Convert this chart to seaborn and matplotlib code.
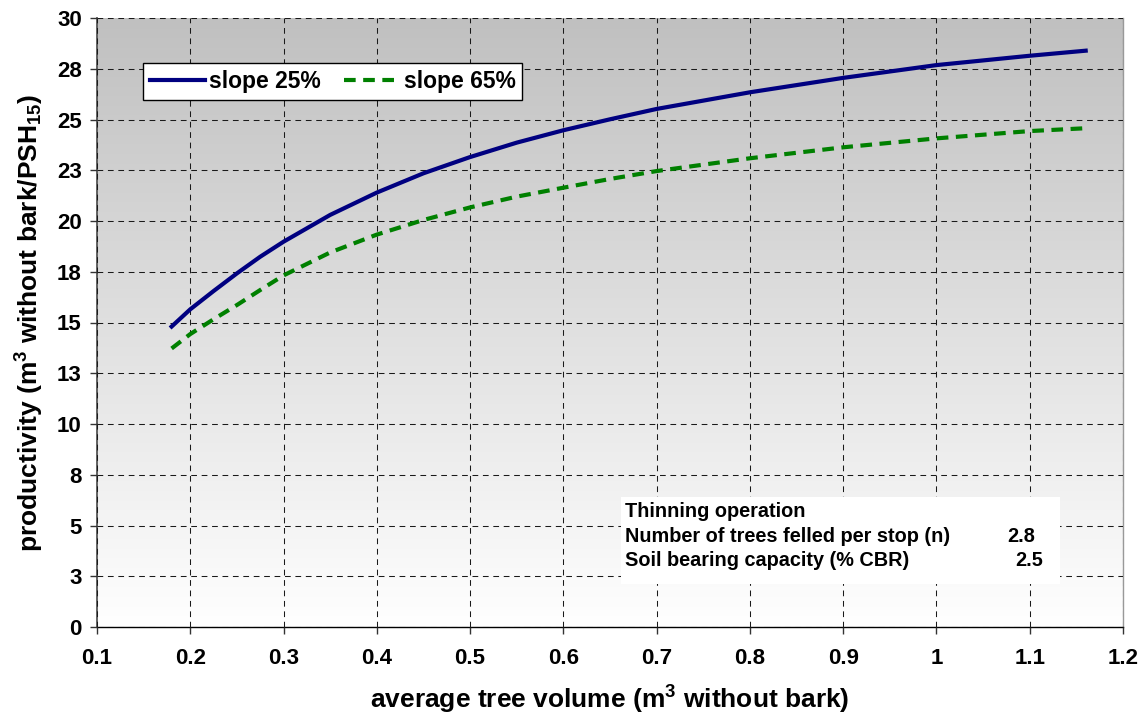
import numpy as np
import pandas as pd
import matplotlib
matplotlib.use("Agg")
import matplotlib.pyplot as plt
import seaborn as sns
from matplotlib.patches import Rectangle

# ---- data ----
volume = [0.18, 0.20, 0.225, 0.25, 0.275, 0.30, 0.35, 0.40, 0.45, 0.50, 0.55, 0.60,
          0.65, 0.70, 0.80, 0.90, 1.00, 1.10, 1.16]
slope25 = [14.80, 15.65, 16.55, 17.42, 18.24, 18.98, 20.30, 21.40, 22.35, 23.15, 23.86, 24.47,
           25.01, 25.52, 26.34, 27.05, 27.68, 28.14, 28.39]
slope65 = [13.72, 14.43, 15.16, 15.86, 16.60, 17.32, 18.45, 19.33, 20.05, 20.67, 21.20, 21.64,
           22.07, 22.46, 23.09, 23.63, 24.07, 24.43, 24.57]
series_names = ["slope 25%", "slope 65%"]

x_ticks = [0.1, 0.2, 0.3, 0.4, 0.5, 0.6, 0.7, 0.8, 0.9, 1.0, 1.1, 1.2]
x_tick_labels = ["0.1", "0.2", "0.3", "0.4", "0.5", "0.6", "0.7", "0.8", "0.9", "1", "1.1", "1.2"]
y_ticks = [0, 2.5, 5, 7.5, 10, 12.5, 15, 17.5, 20, 22.5, 25, 27.5, 30]
y_tick_labels = ["0", "3", "5", "8", "10", "13", "15", "18", "20", "23", "25", "28", "30"]

info_lines = ["Thinning operation",
              "Number of trees felled per stop (n)",
              "Soil bearing capacity (% CBR)"]
info_values = ["", "2.8", "2.5"]

df = pd.DataFrame({"volume": volume, "slope25": slope25, "slope65": slope65})

plt.rcParams["font.family"] = ["Liberation Sans", "DejaVu Sans"]
plt.rcParams["font.weight"] = "bold"
plt.rcParams["mathtext.fontset"] = "custom"
plt.rcParams["mathtext.rm"] = "Liberation Sans:bold"
plt.rcParams["mathtext.it"] = "Liberation Sans:bold"
plt.rcParams["mathtext.bf"] = "Liberation Sans:bold"

fig = plt.figure(figsize=(11.43, 7.17), dpi=100)
ax = fig.add_axes([97 / 1143, 90 / 717, 1026 / 1143, 609 / 717])

xlim = (0.1, 1.2)
ylim = (0, 30)

# vertical grey (top) to white (bottom) gradient background
grad = np.linspace(192, 255, 256)[:, None] / 255.0
grad_rgb = np.dstack([grad, grad, grad])
ax.imshow(grad_rgb, extent=(xlim[0], xlim[1], ylim[0], ylim[1]), origin="upper",
          aspect="auto", zorder=0, interpolation="bilinear")

sns.lineplot(data=df, x="volume", y="slope25", ax=ax, color="#000080", linewidth=3.0,
             label=series_names[0], zorder=3)
sns.lineplot(data=df, x="volume", y="slope65", ax=ax, color="#008000", linewidth=3.0,
             linestyle=(0, (2.8, 1.8)), label=series_names[1], zorder=3)

ax.set_xlim(*xlim)
ax.set_ylim(*ylim)
ax.set_xticks(x_ticks)
ax.set_xticklabels(x_tick_labels)
ax.set_yticks(y_ticks)
ax.set_yticklabels(y_tick_labels)

ax.grid(True, color="#1a1a1a", linewidth=0.75, linestyle=(0, (5.5, 4.5)), zorder=1)
ax.set_axisbelow(False)
for gl in ax.get_xgridlines() + ax.get_ygridlines():
    gl.set_zorder(1)

ax.tick_params(axis="both", direction="out", length=5, width=1, colors="#333333",
               labelcolor="black", labelsize=16)
ax.tick_params(axis="x", pad=10)
ax.tick_params(axis="y", pad=6)
for lab in ax.get_xticklabels() + ax.get_yticklabels():
    lab.set_fontweight("bold")

ax.spines["top"].set_visible(False)
ax.spines["right"].set_color("#999999")
ax.spines["right"].set_linewidth(1.0)
ax.spines["left"].set_color("#555555")
ax.spines["left"].set_linewidth(1.3)
ax.spines["bottom"].set_color("black")
ax.spines["bottom"].set_linewidth(1.0)

ax.set_xlabel("average tree volume (m$^3$ without bark)", fontsize=19, fontweight="bold", labelpad=11)
ax.set_ylabel("productivity (m$^3$ without bark/PSH$_{15}$)", fontsize=19, fontweight="bold", labelpad=8)

leg = ax.legend(loc="upper left", bbox_to_anchor=(0.0448, 0.926), borderaxespad=0,
                ncol=2, frameon=True, fancybox=False, fontsize=16.5, handlelength=2.4,
                handletextpad=0.2, columnspacing=1.0, borderpad=0.3)
leg.get_frame().set_edgecolor("black")
leg.get_frame().set_linewidth(1.0)
leg.get_frame().set_facecolor("white")
leg.get_frame().set_alpha(1.0)
for t in leg.get_texts():
    t.set_fontweight("bold")
leg.set_zorder(5)

# info box
ax.add_patch(Rectangle((0.5104, 0.0706), 0.9386 - 0.5104, 0.214 - 0.0706,
                       transform=ax.transAxes, facecolor="white", edgecolor="none", zorder=4))
line_y = [0.1893, 0.1483, 0.1084]
value_x = [0.0, 0.9142, 0.922]
for txt, val, yy, vx in zip(info_lines, info_values, line_y, value_x):
    ax.text(0.5146, yy, txt, transform=ax.transAxes, fontsize=14.3, fontweight="bold",
            va="center", ha="left", zorder=5)
    if val:
        ax.text(vx, yy, val, transform=ax.transAxes, fontsize=14.3, fontweight="bold",
                va="center", ha="right", zorder=5)

fig.savefig("out.png", dpi=100)
